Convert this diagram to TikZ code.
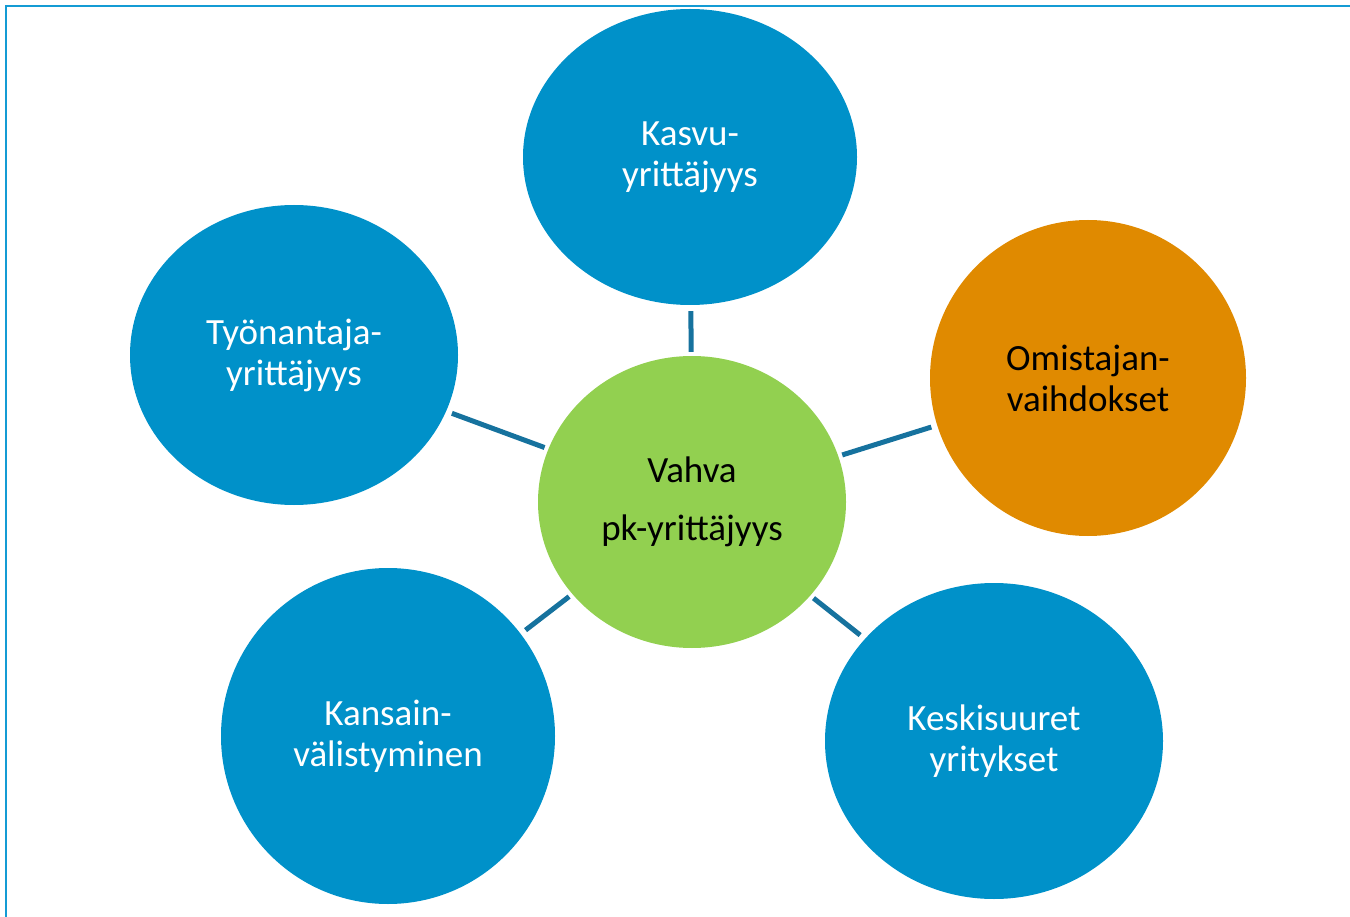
\documentclass[tikz,border=0pt]{standalone}
\usepackage{fontspec}
\setmainfont{Carlito}
\usetikzlibrary{shapes.geometric}
\definecolor{nodeblue}{RGB}{0,145,201}
\definecolor{nodegreen}{RGB}{146,208,80}
\definecolor{nodeorange}{RGB}{224,138,0}
\definecolor{linkblue}{RGB}{22,114,158}
\definecolor{frameblue}{RGB}{20,155,212}
\tikzset{
  bubble/.style={ellipse, inner sep=0pt, fill=nodeblue, text=white, align=center,
    font=\fontsize{37}{41}\selectfont},
  hub/.style={ellipse, inner sep=0pt, fill=nodegreen, text=black, align=center,
    font=\fontsize{37}{58}\selectfont},
  link/.style={draw=linkblue, line width=5pt, shorten <=4pt, shorten >=6pt},
  frame/.style={draw=frameblue, line width=2.5pt}
}
\begin{document}
\begin{tikzpicture}[x=1pt,y=-1pt]
\useasboundingbox (0,0) rectangle (1350,917);
\draw[frame] (6,917) -- (6,6) -- (1350,6);
\node[hub, minimum width=308pt, minimum height=292pt] (c) at (692,502) {Vahva\\pk-yrittäjyys};
\node[bubble, minimum width=334pt, minimum height=296pt] (k) at (690,157) {Kasvu-\\yrittäjyys};
\node[bubble, minimum width=328pt, minimum height=300pt] (t) at (294,355) {Työnantaja-\\yrittäjyys};
\node[bubble, fill=nodeorange, text=black, minimum width=316pt, minimum height=316pt] (o) at (1088,378) {Omistajan-\\vaihdokset};
\node[bubble, minimum width=334pt, minimum height=336pt] (v) at (388,736) {Kansain-\\välistyminen};
\node[bubble, minimum width=338pt, minimum height=316pt] (s) at (994,741) {Keskisuuret\\yritykset};
\draw[link] (c) -- (k);
\draw[link] (c) -- (t);
\draw[link] (c) -- (o);
\draw[link] (c) -- (v);
\draw[link] (c) -- (s);
\end{tikzpicture}
\end{document}
